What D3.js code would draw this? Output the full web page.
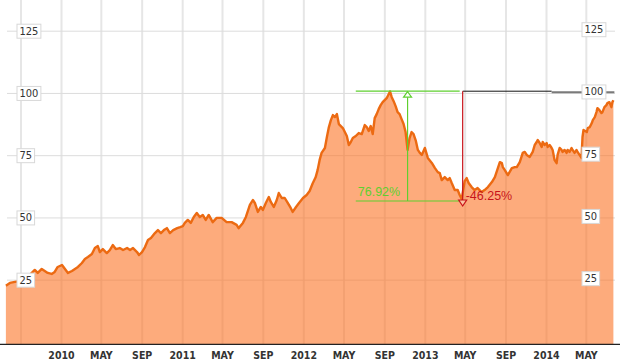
<!DOCTYPE html>
<html><head><meta charset="utf-8">
<script src="https://cdn.jsdelivr.net/npm/d3@7"></script>
<style>
html,body{margin:0;padding:0;background:#fff;}
svg{display:block;}
</style></head>
<body>
<svg id="chart" width="644" height="361"></svg>
<script>
// ---- data ----
const dates = ["2009-07-19","2009-07-31","2009-08-15","2009-09-05","2009-09-20","2009-10-05","2009-10-14","2009-10-23","2009-11-04","2009-11-13","2009-11-22","2009-12-04","2009-12-13","2009-12-22",
"2010-01-04","2010-01-13","2010-01-22","2010-02-03","2010-02-12","2010-02-21","2010-03-05","2010-03-14","2010-03-23","2010-04-04","2010-04-13","2010-04-22","2010-04-28","2010-05-07","2010-05-19","2010-05-28","2010-06-06","2010-06-15","2010-06-27","2010-07-07","2010-07-19","2010-07-28","2010-08-06","2010-08-18","2010-08-24","2010-09-02","2010-09-11","2010-09-20","2010-09-29","2010-10-11","2010-10-20","2010-10-29","2010-11-07","2010-11-16","2010-11-25","2010-12-05","2010-12-17","2010-12-26",
"2011-01-03","2011-01-09","2011-01-18","2011-01-27","2011-02-05","2011-02-14","2011-02-23","2011-03-04","2011-03-13","2011-03-22","2011-04-03","2011-04-15","2011-04-30","2011-05-15","2011-05-30","2011-06-14","2011-06-20","2011-07-03","2011-07-12","2011-07-24","2011-08-02","2011-08-08","2011-08-17","2011-08-26","2011-09-01","2011-09-10","2011-09-19","2011-09-25","2011-10-04","2011-10-13","2011-10-19","2011-10-28","2011-11-06","2011-11-15","2011-11-24","2011-11-30","2011-12-10","2011-12-19","2011-12-31",
"2012-01-11","2012-01-20","2012-01-29","2012-02-07","2012-02-13","2012-02-19","2012-02-25","2012-03-06","2012-03-12","2012-03-18","2012-03-24","2012-03-30","2012-04-05","2012-04-11","2012-04-17","2012-04-23","2012-04-29","2012-05-05","2012-05-11","2012-05-17","2012-05-23","2012-05-29","2012-06-07","2012-06-16","2012-06-25","2012-07-04","2012-07-10","2012-07-16","2012-07-22","2012-07-28","2012-08-03","2012-08-09","2012-08-15","2012-08-21","2012-08-27","2012-09-02","2012-09-08","2012-09-14","2012-09-18","2012-09-23","2012-09-29","2012-10-05","2012-10-11","2012-10-17","2012-10-23","2012-10-29","2012-11-04","2012-11-10","2012-11-16","2012-11-22","2012-11-28","2012-12-05","2012-12-11","2012-12-17","2012-12-23",
"2013-01-01","2013-01-10","2013-01-22","2013-01-31","2013-02-09","2013-02-15","2013-02-21","2013-03-02","2013-03-11","2013-03-17","2013-03-23","2013-04-01","2013-04-10","2013-04-16","2013-04-22","2013-05-01","2013-05-07","2013-05-13","2013-05-22","2013-05-31","2013-06-09","2013-06-21","2013-06-30","2013-07-10","2013-07-22","2013-07-31","2013-08-09","2013-08-15","2013-08-21","2013-08-24","2013-08-30","2013-09-08","2013-09-20","2013-09-29","2013-10-05","2013-10-14","2013-10-23","2013-10-29","2013-11-04","2013-11-13","2013-11-22","2013-11-28","2013-12-04","2013-12-07","2013-12-13","2013-12-19","2013-12-22","2013-12-28",
"2014-01-03","2014-01-06","2014-01-12","2014-01-18","2014-01-21","2014-01-27","2014-02-02","2014-02-05","2014-02-11","2014-02-17","2014-02-20","2014-02-26","2014-03-04","2014-03-07","2014-03-13","2014-03-19","2014-03-22","2014-03-28","2014-04-03","2014-04-06","2014-04-12","2014-04-18","2014-04-21","2014-04-24","2014-05-04","2014-05-07","2014-05-13","2014-05-19","2014-05-22","2014-05-28","2014-06-02","2014-06-05","2014-06-11","2014-06-17","2014-06-20","2014-06-26","2014-07-02","2014-07-05","2014-07-11","2014-07-17","2014-07-20","2014-07-23"];

const prices = [22.8,23.9,24.3,24.7,25.9,27.9,29.1,27.9,29.5,28.7,27.9,27.5,28.3,30.3,
31.1,29.5,27.9,28.7,29.5,30.3,31.9,33.5,34.3,35.5,37.9,38.7,36.3,37.5,35.9,37.1,39.1,37.5,37.9,37.1,37.9,37.1,37.9,36.3,35.1,36.3,38.3,41.1,41.9,43.9,45.1,43.9,45.1,45.9,43.9,45.1,45.9,46.3,
46.7,48.0,49.2,48.0,50.4,52.0,50.4,51.2,49.2,51.2,48.3,50.0,50.0,48.3,48.3,47.2,45.9,48.0,50.4,55.2,57.2,56.0,52.4,54.4,53.2,56.0,58.4,56.4,54.4,57.2,60.0,58.0,58.0,56.0,54.0,52.4,54.4,56.0,58.0,
59.2,60.8,63.8,66.3,69.2,73.2,76.1,78.1,82.5,86.5,89.3,91.3,90.5,91.7,87.7,86.9,86.1,84.5,82.9,79.3,80.5,82.1,82.9,84.1,83.7,87.3,86.5,84.9,86.9,83.7,90.1,91.7,93.7,95.3,96.5,97.3,98.1,99.7,100.8,98.6,96.9,94.9,92.5,91.7,89.7,87.7,84.5,77.3,82.1,84.5,83.7,80.9,77.3,76.1,75.3,
78.1,74.1,72.1,70.1,68.4,68.0,65.2,66.4,65.2,66.0,64.0,61.2,61.2,59.2,57.6,64.8,66.0,64.0,62.4,61.2,62.0,60.4,61.2,62.4,64.4,66.4,70.0,72.4,72.0,70.4,69.2,67.2,70.0,70.4,70.4,72.4,76.1,76.5,75.3,74.5,76.5,79.3,80.5,81.3,80.1,78.5,80.5,79.3,
80.1,78.5,79.3,78.1,77.3,73.2,72.0,75.3,78.1,77.3,76.5,77.3,76.1,77.3,76.5,78.1,77.3,76.1,77.3,76.5,75.3,74.1,82.5,85.3,84.5,86.1,86.5,88.1,89.3,90.5,92.5,94.1,93.3,92.1,92.5,94.5,95.3,96.1,96.5,94.5,96.5,97.3];

const gridDates = ["2009-09-01","2010-01-01","2010-05-01","2010-09-01","2011-01-01","2011-05-01","2011-09-01","2012-01-01","2012-05-01","2012-09-01","2013-01-01","2013-05-01","2013-09-01","2014-01-01","2014-05-01"];
const gridLabels = ["","2010","MAY","SEP","2011","MAY","SEP","2012","MAY","SEP","2013","MAY","SEP","2014","MAY"];
const yTicks = [25,50,75,100,125];

// annotation values
const peakValue = 100.9, troughValue = 56.8, lastLineValue = 100.5;
const greenStart = "2012-06-07", greenEnd = "2013-04-16", greenArrowDate = "2012-11-10";
const redDate = "2013-04-25", blackEnd = "2014-01-18", grayEnd = "2014-07-26";
const gainLabel = "76.92%", lossLabel = "-46.25%";

// ---- scales ----
const parse = d3.timeParse("%Y-%m-%d");
const series = dates.map((d,i)=>({date:parse(d), value:prices[i]}));
const x = d3.scaleTime().domain([parse("2010-01-01"), parse("2014-01-01")]).range([61, 546]);
const y = d3.scaleLinear().domain([-0.6, 125]).range([343.9, 31.2]);

const svg = d3.select("#chart");
const font = "'Liberation Sans Narrow','DejaVu Sans Condensed','Liberation Sans',Arial,sans-serif";

// vertical gridlines via axis
const gx = svg.append("g").attr("transform", `translate(0,${y(-0.6)})`)
  .call(d3.axisBottom(x).tickValues(gridDates.map(parse)).tickSize(-y(-0.6)).tickFormat(""));
gx.select(".domain").remove();
gx.selectAll(".tick line").attr("stroke","#e6e6e6").attr("stroke-width",2);

// horizontal gridlines
svg.append("g").selectAll("line").data(yTicks).join("line")
  .attr("x1",7).attr("x2",615)
  .attr("y1",d=>y(d)).attr("y2",d=>y(d))
  .attr("stroke","#dcdcdc").attr("stroke-width",1);

// area + line
const area = d3.area().x(d=>x(d.date)).y0(y(-0.6)).y1(d=>y(d.value));
const line = d3.line().x(d=>x(d.date)).y(d=>y(d.value));
svg.append("path").datum(series).attr("d",area)
  .attr("fill","rgb(252,115,37)").attr("fill-opacity",0.6);
svg.append("path").datum(series).attr("d",line)
  .attr("fill","none").attr("stroke","#ec6a12").attr("stroke-width",2.4).attr("stroke-linejoin","round");

// annotations
const green = "#5fcf2f", red = "#c8141a";
const ann = svg.append("g");
ann.append("line").attr("x1",x(parse(greenStart))).attr("x2",x(parse(greenEnd)))
  .attr("y1",y(peakValue)).attr("y2",y(peakValue)).attr("stroke",green).attr("stroke-width",1.2);
ann.append("line").attr("x1",x(parse(greenStart))).attr("x2",x(parse(greenEnd)))
  .attr("y1",y(troughValue)).attr("y2",y(troughValue)).attr("stroke",green).attr("stroke-width",1.2);
const ga = x(parse(greenArrowDate));
ann.append("line").attr("x1",ga).attr("x2",ga).attr("y1",y(peakValue)+5).attr("y2",y(troughValue))
  .attr("stroke",green).attr("stroke-width",1.2);
ann.append("path").attr("d",`M${ga},${y(peakValue)+0.5} L${ga-4},${y(peakValue)+6} L${ga+4},${y(peakValue)+6} Z`)
  .attr("fill","#fff").attr("stroke",green).attr("stroke-width",1.2);
ann.append("text").attr("x",x(parse(greenStart))+2).attr("y",y(troughValue)-5)
  .attr("fill",green).attr("font-family","'Liberation Sans',Arial,sans-serif").attr("font-size",12.5).text(gainLabel);

const rx = x(parse(redDate));
ann.append("line").attr("x1",rx).attr("x2",x(parse(blackEnd)))
  .attr("y1",y(peakValue)).attr("y2",y(peakValue)).attr("stroke","#111").attr("stroke-width",1);
ann.append("line").attr("x1",x(parse(blackEnd))).attr("x2",x(parse(grayEnd)))
  .attr("y1",y(lastLineValue)).attr("y2",y(lastLineValue)).attr("stroke","#7a7a7a").attr("stroke-width",2);
ann.append("line").attr("x1",rx).attr("x2",rx).attr("y1",y(peakValue)).attr("y2",y(troughValue)-1)
  .attr("stroke",red).attr("stroke-width",1.2);
ann.append("path").attr("d",`M${rx},${y(troughValue)+5} L${rx-4},${y(troughValue)-1} L${rx+4},${y(troughValue)-1} Z`)
  .attr("fill","#fff").attr("fill-opacity",0.3).attr("stroke",red).attr("stroke-width",1.2);
ann.append("text").attr("x",rx+3).attr("y",y(troughValue)-0.5)
  .attr("fill",red).attr("font-family","'Liberation Sans',Arial,sans-serif").attr("font-size",12.5).text(lossLabel);

// x axis line + labels
const xa = svg.append("g").attr("transform",`translate(0,${y(-0.6)})`)
  .call(d3.axisBottom(x).tickValues(gridDates.map(parse)).tickSize(0).tickPadding(8)
    .tickFormat((d,i)=>gridLabels[i]));
xa.select(".domain").attr("d",`M0,0.5H620`).attr("stroke","#222").attr("stroke-width",1.3);
xa.selectAll(".tick text").attr("font-family",font).attr("font-weight","bold")
  .attr("font-size",10.5).attr("fill","#333");

// y labels with boxes (left & right)
function yLabels(x0, dy){
  const g = svg.append("g");
  yTicks.forEach(v=>{
    const t = g.append("text").attr("x",x0+2.5).attr("y",y(v)+dy)
      .attr("dominant-baseline","central").attr("font-family",font)
      .attr("font-size",11).attr("fill","#333").text(v);
    const bb = t.node().getBBox();
    g.insert("rect","text").attr("x",x0).attr("y",y(v)+dy-7)
      .attr("width",bb.width+5).attr("height",14)
      .attr("fill","#fff").attr("stroke","#d8d8d8").attr("stroke-width",1);
  });
}
yLabels(17, 0);
yLabels(582, -1.5);
</script>
</body></html>
